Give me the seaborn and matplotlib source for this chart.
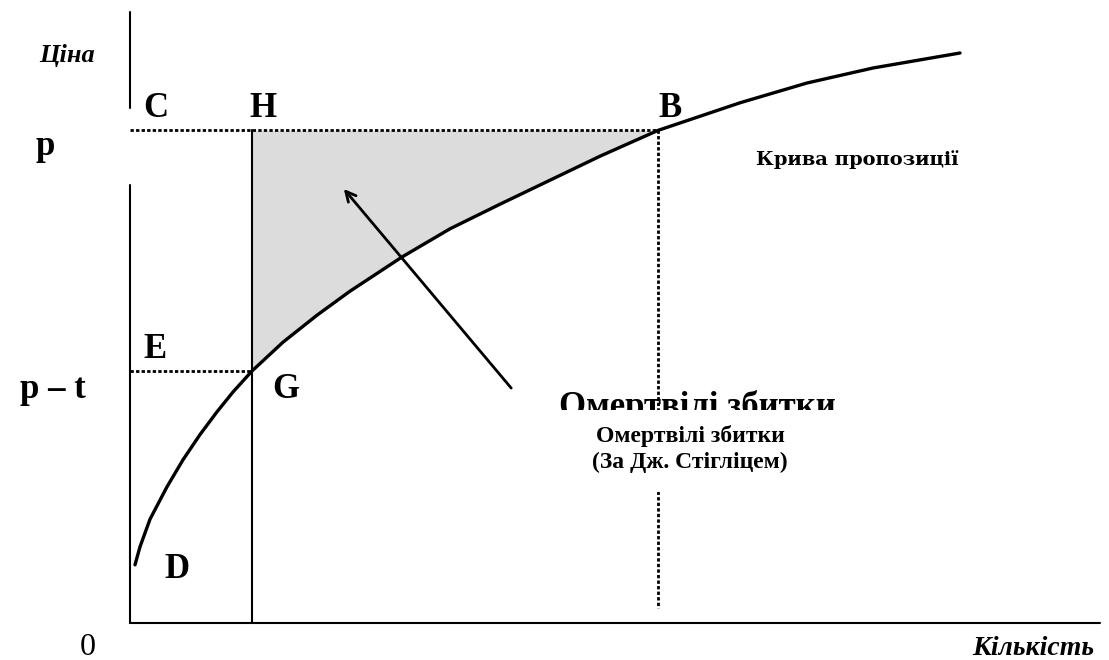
import matplotlib
matplotlib.use("Agg")
import pandas as pd
import matplotlib.pyplot as plt
import seaborn as sns
from matplotlib.patches import Rectangle

# Крива пропозиції (кількість, ціна)
supply_q = [0.5, 1.0, 2.0, 3.7, 5.3, 7.0, 8.7, 10.3, 12.2, 15.3, 18.7, 22.0, 27.2,
            32.0, 37.0, 42.0, 47.0, 52.8, 61.0, 67.7, 74.3, 83.0]
supply_p = [9.7, 12.7, 17.3, 22.7, 27.2, 31.4, 35.2, 38.5, 42.0, 46.8, 51.3, 55.3, 61.0,
            65.7, 69.8, 73.8, 77.8, 82.1, 86.7, 90.0, 92.5, 95.0]

price_p = 82.1      # p
price_pt = 42.0     # p - t
q_tax = 12.2        # кількість з податком
q_market = 52.8     # кількість без податку

sns.set_style("white")
plt.rcParams['font.family'] = ['Liberation Serif', 'DejaVu Serif']
plt.rcParams['text.color'] = 'black'

fig = plt.figure(figsize=(11.09, 6.6), dpi=100)
ax = fig.add_axes([0, 0, 1, 1])
ax.set_xlim(-13, 97.9)
ax.set_ylim(-6.1667, 103.833)

df = pd.DataFrame({'q': supply_q, 'p': supply_p})
shade = df[(df.q >= q_tax) & (df.q <= q_market)]
ax.fill_between(shade.q, shade.p, price_p, color='#dcdcdc', lw=0, zorder=1)
sns.lineplot(data=df, x='q', y='p', color='black', lw=2.4, ax=ax, zorder=3, sort=False)

# осі
ax.plot([0, 0], [101.8, 85.8], color='black', lw=1.5)
ax.plot([0, 0], [73.0, 0], color='black', lw=1.5)
ax.plot([0, 97], [0, 0], color='black', lw=1.5)

# допоміжні лінії
dots = (0, (1.2, 0.8))
ax.plot([q_tax, q_tax], [0, price_p], color='black', lw=1.5, zorder=2)
ax.plot([0, q_market], [price_p, price_p], color='black', lw=2, ls=dots, zorder=2)
ax.plot([0, q_tax], [price_pt, price_pt], color='black', lw=2, ls=dots, zorder=2)
ax.plot([q_market, q_market], [price_p, 2.5], color='black', lw=2, ls=dots, zorder=2)

ax.annotate('', xy=(21.2, 72.7), xytext=(38.3, 38.8),
            arrowprops=dict(arrowstyle='->', lw=2, color='black', mutation_scale=18), zorder=3)

ax.text(56.7, 34.5, 'Омертвілі збитки', fontsize=25, fontweight='bold',
        ha='center', va='baseline', zorder=4)
ax.add_patch(Rectangle((41, 21.8), 32, 13.7, fc='white', ec='none', zorder=5))
ax.text(56.0, 29.0, 'Омертвілі збитки\n(За Дж. Стігліцем)', fontsize=17, fontweight='bold',
        ha='center', va='center', linespacing=1.35, zorder=6)

lab = dict(fontsize=25, fontweight='bold', ha='center', va='baseline')
ax.text(2.6, 84.3, 'C', **lab)
ax.text(13.3, 84.3, 'H', **lab)
ax.text(54.0, 84.3, 'B', **lab)
ax.text(-8.5, 78.0, 'p', **lab)
ax.text(2.5, 44.2, 'E', **lab)
ax.text(-7.7, 37.5, 'p – t', **lab)
ax.text(15.6, 37.5, 'G', **lab)
ax.text(4.7, 7.5, 'D', **lab)
ax.text(-4.2, -5.33, '0', fontsize=23, ha='center', va='baseline')
ax.text(-6.3, 93.5, 'Ціна', fontsize=19, fontweight='bold', fontstyle='italic',
        ha='center', va='baseline')
ax.text(90.3, -5.33, 'Кількість', fontsize=20, fontweight='bold', fontstyle='italic',
        ha='center', va='baseline')
ax.text(72.7, 76.3, 'Крива пропозиції', fontsize=14, fontweight='bold',
        family=['DejaVu Serif'], ha='center', va='baseline')

ax.axis('off')
fig.savefig('out.png', dpi=100)
